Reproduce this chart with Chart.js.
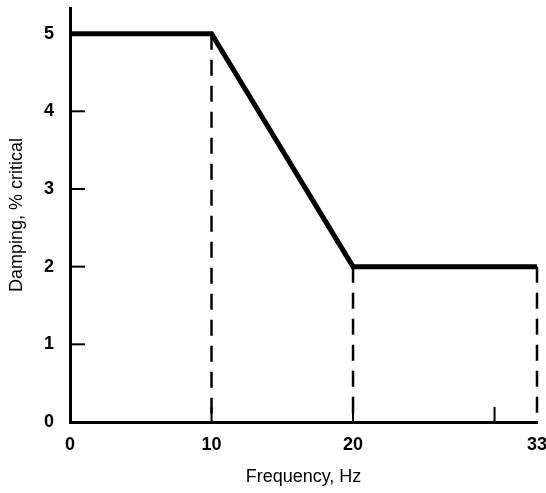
<!DOCTYPE html>
<html>
<head>
<meta charset="utf-8">
<script src="https://cdn.jsdelivr.net/npm/chart.js@4/dist/chart.umd.min.js"></script>
<style>
  html, body { margin: 0; padding: 0; background: #fff; }
  #wrap { width: 546px; height: 493px; }
</style>
</head>
<body>
<div id="wrap"><canvas id="chart"></canvas></div>
<script>
// Damping curve: frequency (Hz) vs damping (% critical)
const freq = [0, 10, 20, 33];
const damping = [5, 5, 2, 2];

// Tick labels
const xTicks = [0, 10, 20, 33];
const yTicks = [0, 1, 2, 3, 4, 5];

// Small inward tick marks on the axes
const innerTicksX = [10, 20, 30];
const innerTicksY = [1, 2, 3, 4];

// Dashed drop lines go from the curve down to zero
const dropFreq = [10, 20, 33];

const curve = freq.map((f, i) => ({ x: f, y: damping[i] }));

const dropSets = dropFreq.map(f => {
    const top = damping[freq.indexOf(f)];
    return {
        data: [{ x: f, y: top }, { x: f, y: 0 }],
        borderColor: '#000',
        borderWidth: 2.5,
        borderDash: [16, 10],
        pointRadius: 0,
        showLine: true,
        clip: false
    };
});

const innerTicks = {
    id: 'innerTicks',
    afterDatasetsDraw(chart) {
        const { ctx, scales: { x, y } } = chart;
        ctx.save();
        ctx.strokeStyle = '#000';
        ctx.lineWidth = 2;
        innerTicksY.forEach(v => {
            const py = y.getPixelForValue(v);
            ctx.beginPath();
            ctx.moveTo(x.left, py);
            ctx.lineTo(x.left + 15, py);
            ctx.stroke();
        });
        innerTicksX.forEach(v => {
            const px = x.getPixelForValue(v);
            ctx.beginPath();
            ctx.moveTo(px, y.bottom);
            ctx.lineTo(px, y.bottom - 15);
            ctx.stroke();
        });
        ctx.restore();
    }
};

const tickFont = { family: 'Liberation Sans, Arial, sans-serif', size: 18, weight: 'bold' };
const titleFont = { family: 'Liberation Sans, Arial, sans-serif', size: 18 };

new Chart(document.getElementById('chart'), {
    type: 'scatter',
    data: {
        datasets: [
            {
                data: curve,
                borderColor: '#000',
                borderWidth: 5,
                borderJoinStyle: 'miter',
                pointRadius: 0,
                showLine: true,
                tension: 0,
                clip: false
            },
            ...dropSets
        ]
    },
    options: {
        responsive: true,
        maintainAspectRatio: false,
        animation: false,
        layout: { padding: { top: 8, right: 9, bottom: 0, left: 0 } },
        plugins: {
            legend: { display: false },
            tooltip: { enabled: false }
        },
        scales: {
            x: {
                type: 'linear',
                min: 0,
                max: 33,
                afterBuildTicks: s => { s.ticks = xTicks.map(v => ({ value: v })); },
                afterFit: s => {
                    s.height = 71;
                    s.paddingLeft = 0;
                    s.paddingRight = 0;
                },
                grid: { display: false, drawTicks: false },
                border: { display: true, color: '#000', width: 3 },
                ticks: {
                    color: '#000',
                    padding: 12,
                    maxRotation: 0,
                    autoSkip: false,
                    font: tickFont
                },
                title: {
                    display: true,
                    text: 'Frequency, Hz',
                    color: '#000',
                    padding: { top: 0, bottom: 5 },
                    font: titleFont
                }
            },
            y: {
                type: 'linear',
                min: 0,
                max: 5.33,
                afterBuildTicks: s => { s.ticks = yTicks.map(v => ({ value: v })); },
                afterFit: s => {
                    s.width = 70;
                    s.paddingTop = 0;
                    s.paddingBottom = 0;
                },
                grid: { display: false, drawTicks: false },
                border: { display: true, color: '#000', width: 3 },
                ticks: {
                    color: '#000',
                    padding: 16,
                    autoSkip: false,
                    font: tickFont
                },
                title: {
                    display: true,
                    text: 'Damping, % critical',
                    color: '#000',
                    padding: { top: 6, bottom: 0 },
                    font: titleFont
                }
            }
        }
    },
    plugins: [innerTicks]
});
</script>
</body>
</html>
